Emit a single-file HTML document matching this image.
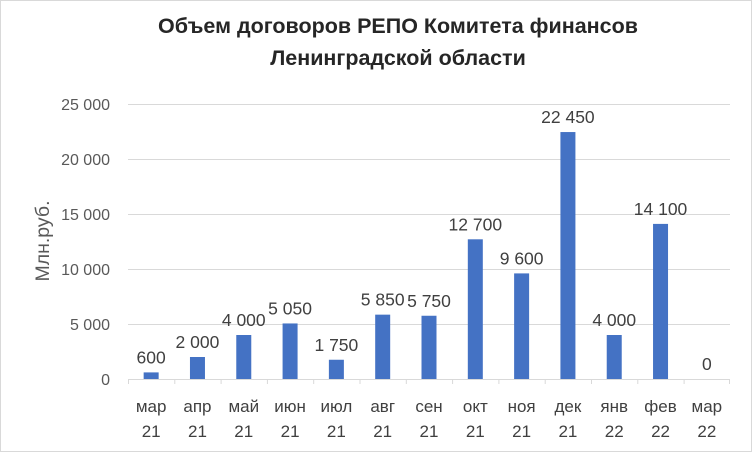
<!DOCTYPE html><html><head><style>body{margin:0;background:#fff}svg text{font-family:"Liberation Sans",sans-serif}</style></head><body>
<svg width="752" height="452" xmlns="http://www.w3.org/2000/svg">
<rect x="0.5" y="0.5" width="751" height="451" fill="#fff" stroke="#d9d9d9"/>
<text x="398" y="33" font-size="21.5" font-weight="bold" text-anchor="middle" fill="#262626">Объем  договоров РЕПО Комитета финансов</text>
<text x="398" y="65" font-size="21.5" font-weight="bold" text-anchor="middle" fill="#262626">Ленинградской области</text>
<g stroke="#d9d9d9" stroke-width="1">
<line x1="128" y1="104.5" x2="730" y2="104.5"/><line x1="128" y1="159.5" x2="730" y2="159.5"/><line x1="128" y1="214.5" x2="730" y2="214.5"/><line x1="128" y1="269.5" x2="730" y2="269.5"/><line x1="128" y1="324.5" x2="730" y2="324.5"/><line x1="128" y1="379.5" x2="730" y2="379.5"/>
<line x1="128.5" y1="379" x2="128.5" y2="384"/><line x1="174.8" y1="379" x2="174.8" y2="384"/><line x1="221.1" y1="379" x2="221.1" y2="384"/><line x1="267.4" y1="379" x2="267.4" y2="384"/><line x1="313.7" y1="379" x2="313.7" y2="384"/><line x1="360" y1="379" x2="360" y2="384"/><line x1="406.3" y1="379" x2="406.3" y2="384"/><line x1="452.6" y1="379" x2="452.6" y2="384"/><line x1="498.9" y1="379" x2="498.9" y2="384"/><line x1="545.2" y1="379" x2="545.2" y2="384"/><line x1="591.5" y1="379" x2="591.5" y2="384"/><line x1="637.8" y1="379" x2="637.8" y2="384"/><line x1="684.1" y1="379" x2="684.1" y2="384"/><line x1="729.5" y1="379" x2="729.5" y2="384"/>
</g>
<g font-size="16" fill="#595959" text-anchor="end">
<text x="110" y="110">25 000</text><text x="110" y="165">20 000</text><text x="110" y="220">15 000</text><text x="110" y="275">10 000</text><text x="110" y="330">5 000</text><text x="110" y="385">0</text>
</g>
<text transform="translate(49,241) rotate(-90)" font-size="19.5" fill="#595959" text-anchor="middle">Млн.руб.</text>
<g fill="#4472c4">
<rect x="143.65" y="372.4" width="15" height="6.6"/>
<rect x="189.96" y="357" width="15" height="22"/>
<rect x="236.27" y="335" width="15" height="44"/>
<rect x="282.58" y="323.45" width="15" height="55.55"/>
<rect x="328.88" y="359.75" width="15" height="19.25"/>
<rect x="375.19" y="314.65" width="15" height="64.35"/>
<rect x="421.5" y="315.75" width="15" height="63.25"/>
<rect x="467.81" y="239.3" width="15" height="139.7"/>
<rect x="514.12" y="273.4" width="15" height="105.6"/>
<rect x="560.42" y="132.05" width="15" height="246.95"/>
<rect x="606.73" y="335" width="15" height="44"/>
<rect x="653.04" y="223.9" width="15" height="155.1"/>
</g>
<g font-size="17.5" fill="#404040" text-anchor="middle">
<text x="151.15" y="363.4">600</text>
<text x="197.46" y="348">2 000</text>
<text x="243.77" y="326">4 000</text>
<text x="290.08" y="314.45">5 050</text>
<text x="336.38" y="350.75">1 750</text>
<text x="382.69" y="305.65">5 850</text>
<text x="429" y="306.75">5 750</text>
<text x="475.31" y="230.3">12 700</text>
<text x="521.62" y="264.4">9 600</text>
<text x="567.92" y="123.05">22 450</text>
<text x="614.23" y="326">4 000</text>
<text x="660.54" y="214.9">14 100</text>
<text x="706.85" y="370">0</text>
</g>
<g font-size="17" fill="#404040" text-anchor="middle">
<text x="151.15" y="412">мар</text><text x="151.15" y="437">21</text>
<text x="197.46" y="412">апр</text><text x="197.46" y="437">21</text>
<text x="243.77" y="412">май</text><text x="243.77" y="437">21</text>
<text x="290.08" y="412">июн</text><text x="290.08" y="437">21</text>
<text x="336.38" y="412">июл</text><text x="336.38" y="437">21</text>
<text x="382.69" y="412">авг</text><text x="382.69" y="437">21</text>
<text x="429" y="412">сен</text><text x="429" y="437">21</text>
<text x="475.31" y="412">окт</text><text x="475.31" y="437">21</text>
<text x="521.62" y="412">ноя</text><text x="521.62" y="437">21</text>
<text x="567.92" y="412">дек</text><text x="567.92" y="437">21</text>
<text x="614.23" y="412">янв</text><text x="614.23" y="437">22</text>
<text x="660.54" y="412">фев</text><text x="660.54" y="437">22</text>
<text x="706.85" y="412">мар</text><text x="706.85" y="437">22</text>
</g>
</svg></body></html>
